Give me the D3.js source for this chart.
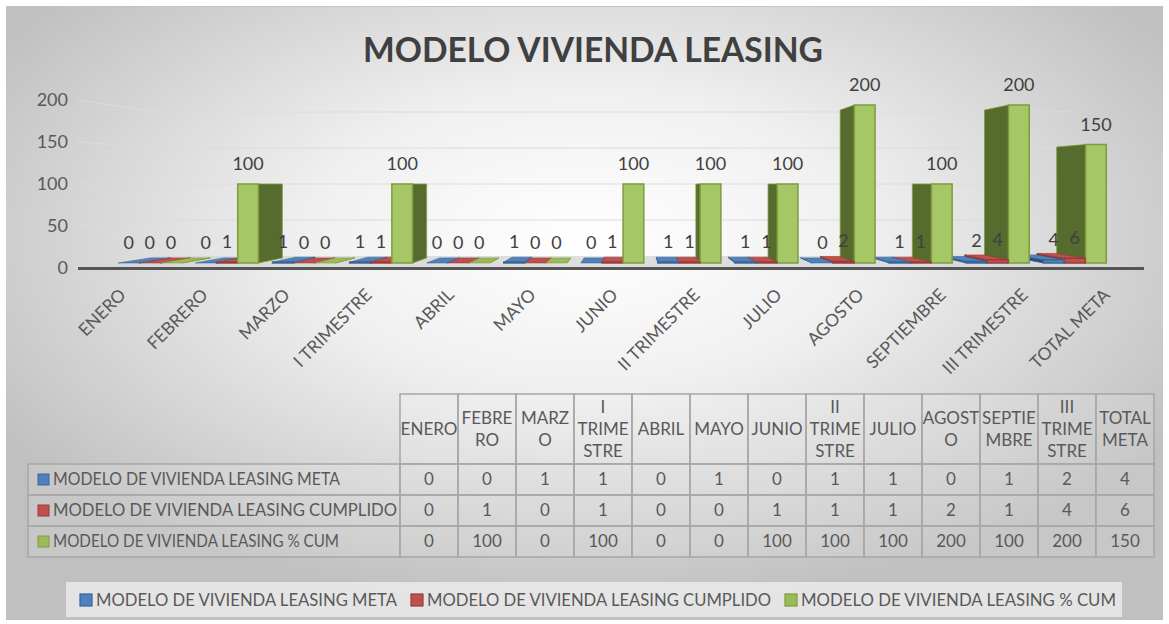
<!DOCTYPE html>
<html>
<head>
<meta charset="utf-8">
<script src="https://cdn.jsdelivr.net/npm/d3@7"></script>
<style>
  body { margin: 0; background: #fff; }
  svg { display: block; font-family: Lato, "Open Sans", sans-serif; }
</style>
</head>
<body>
<div id="chart"></div>
<script>
// data
const categories = ["ENERO", "FEBRERO", "MARZO", "I TRIMESTRE", "ABRIL", "MAYO", "JUNIO",
  "II TRIMESTRE", "JULIO", "AGOSTO", "SEPTIEMBRE", "III TRIMESTRE", "TOTAL META"];
const headerLines = [["ENERO"], ["FEBRE", "RO"], ["MARZ", "O"], ["I", "TRIME", "STRE"], ["ABRIL"],
  ["MAYO"], ["JUNIO"], ["II", "TRIME", "STRE"], ["JULIO"], ["AGOST", "O"], ["SEPTIE", "MBRE"],
  ["III", "TRIME", "STRE"], ["TOTAL", "META"]];
const seriesNames = ["MODELO DE VIVIENDA LEASING META", "MODELO DE VIVIENDA LEASING CUMPLIDO",
  "MODELO DE VIVIENDA LEASING % CUM"];
const metaValues = [0, 0, 1, 1, 0, 1, 0, 1, 1, 0, 1, 2, 4];
const cumplidoValues = [0, 1, 0, 1, 0, 0, 1, 1, 1, 2, 1, 4, 6];
const pctValues = [0, 100, 0, 100, 0, 0, 100, 100, 100, 200, 100, 200, 150];
const yTicks = [0, 50, 100, 150, 200];

const seriesValues = [metaValues, cumplidoValues, pctValues];
const colors = [
  { front: "#4f81bd", side: "#2c4d75", top: "#4f81bd", edge: "#3a6496" },
  { front: "#c0504d", side: "#8c2f2d", top: "#c0504d", edge: "#9a3b38" },
  { front: "#a6c766", side: "#566b2e", top: "#9bbb59", edge: "#7e9c3e" }
];

const width = 1169, height = 624;

const svg = d3.select("#chart").append("svg")
  .attr("width", width)
  .attr("height", height);

// background
const defs = svg.append("defs");
const grad = defs.append("radialGradient")
  .attr("id", "bg")
  .attr("cx", 0.5).attr("cy", 0.38).attr("r", 0.6);
grad.append("stop").attr("offset", "0%").attr("stop-color", "#ffffff");
grad.append("stop").attr("offset", "40%").attr("stop-color", "#f0f0f0");
grad.append("stop").attr("offset", "100%").attr("stop-color", "#c0c0c0");

svg.append("rect")
  .attr("x", 6).attr("y", 6)
  .attr("width", 1157).attr("height", 614)
  .attr("fill", "url(#bg)");
svg.append("line")
  .attr("x1", 6).attr("x2", 1163).attr("y1", 6.5).attr("y2", 6.5)
  .attr("stroke", "#c4c4c4");

// title
svg.append("text")
  .attr("x", 593).attr("y", 62)
  .attr("text-anchor", "middle")
  .attr("font-weight", 700)
  .attr("font-size", 34)
  .attr("fill", "#404040")
  .attr("textLength", 460)
  .attr("lengthAdjust", "spacingAndGlyphs")
  .text("MODELO VIVIENDA LEASING");

// perspective: eye at vx, vy; s is the depth scale (1 = front)
const vx = 633, vy = 184;
const sFloorBack = 0.857, sBarFront = 0.94, sBarBack = 0.88;
function proj(X, Y, s) {
  return [vx + (X - vx) * s, vy + (Y - vy) * s];
}

const x0 = d3.scaleBand().domain(categories).range([78, 1144]);
const x1 = d3.scaleBand().domain(d3.range(3)).range([-33.5, 33.5]).paddingInner(0.02);
const y = d3.scaleLinear().domain([0, 200]).range([268, 100]);

const xl = x0.range()[0], xr = x0.range()[1];

// gridlines: side wall + back wall
const grid = svg.append("g");
yTicks.forEach(function (v) {
  if (v === 0) return;
  const a = proj(xl, y(v), 1), b = proj(xl, y(v), sFloorBack), c = proj(xr, y(v), sFloorBack);
  grid.append("polyline")
    .attr("points", [a, b, c].map(p => p.join(",")).join(" "))
    .attr("fill", "none")
    .attr("stroke", "#dcdcdc")
    .attr("stroke-width", 1);
});

// y axis labels
svg.append("g").selectAll("text")
  .data(yTicks)
  .join("text")
  .attr("x", 68)
  .attr("y", d => y(d))
  .attr("dy", "0.35em")
  .attr("text-anchor", "end")
  .attr("font-size", 18)
  .attr("fill", "#595959")
  .text(d => d);

// floor
const floorPts = [proj(xl, y(0), 1), proj(xr, y(0), 1), proj(xr, y(0), sFloorBack), proj(xl, y(0), sFloorBack)];
svg.append("polygon")
  .attr("points", floorPts.map(p => p.join(",")).join(" "))
  .attr("fill", "#d6d6d6")
  .attr("opacity", 0.8);
svg.append("rect")
  .attr("x", xl).attr("y", y(0) - 1)
  .attr("width", xr - xl).attr("height", 3)
  .attr("fill", "#555555");

// bars
const bars = [];
categories.forEach(function (c, i) {
  seriesValues.forEach(function (vals, j) {
    const left = x0(c) + x0.bandwidth() / 2 + x1(j);
    bars.push({ cat: c, i: i, j: j, value: vals[i], xl: left, xr: left + x1.bandwidth() });
  });
});
bars.sort((a, b) => Math.abs((b.xl + b.xr) / 2 - vx) - Math.abs((a.xl + a.xr) / 2 - vx));

const poly = pts => pts.map(p => p.join(",")).join(" ");
const barG = svg.append("g");
bars.forEach(function (d) {
  const col = colors[d.j];
  const y0 = y(0), yt = y(d.value);
  const g = barG.append("g");
  // side face
  if (d.xr < vx) {
    g.append("polygon")
      .attr("points", poly([proj(d.xr, y0, sBarFront), proj(d.xr, y0, sBarBack), proj(d.xr, yt, sBarBack), proj(d.xr, yt, sBarFront)]))
      .attr("fill", col.side).attr("stroke", col.edge).attr("stroke-width", 0.8);
  } else if (d.xl > vx) {
    g.append("polygon")
      .attr("points", poly([proj(d.xl, y0, sBarFront), proj(d.xl, y0, sBarBack), proj(d.xl, yt, sBarBack), proj(d.xl, yt, sBarFront)]))
      .attr("fill", col.side).attr("stroke", col.edge).attr("stroke-width", 0.8);
  }
  // top face (seen when top is below eye level)
  if (yt > vy) {
    g.append("polygon")
      .attr("points", poly([proj(d.xl, yt, sBarFront), proj(d.xr, yt, sBarFront), proj(d.xr, yt, sBarBack), proj(d.xl, yt, sBarBack)]))
      .attr("fill", col.top).attr("stroke", col.edge).attr("stroke-width", 0.6);
  }
  // front face
  if (d.value > 0) {
    g.append("polygon")
      .attr("points", poly([proj(d.xl, y0, sBarFront), proj(d.xr, y0, sBarFront), proj(d.xr, yt, sBarFront), proj(d.xl, yt, sBarFront)]))
      .attr("fill", col.front).attr("stroke", col.edge).attr("stroke-width", 1.5);
  }
});

// data labels
svg.append("g").selectAll("text")
  .data(bars)
  .join("text")
  .attr("x", d => proj((d.xl + d.xr) / 2, 0, sBarFront)[0])
  .attr("y", d => proj(0, y(d.value), sBarFront)[1] - 14)
  .attr("text-anchor", "middle")
  .attr("font-size", 18)
  .attr("fill", "#404040")
  .text(d => d.value);

// category labels
svg.append("g").selectAll("text")
  .data(categories)
  .join("text")
  .attr("transform", d => `translate(${x0(d) + x0.bandwidth() / 2 + 8},${296}) rotate(-45)`)
  .attr("text-anchor", "end")
  .attr("font-size", 17.5)
  .attr("fill", "#595959")
  .text(d => d);

// data table
const tableLeft = 400, tableRight = 1154, labelLeft = 28;
const headerTop = 394, headerBottom = 464, rowH = 31;
const col = d3.scaleBand().domain(categories).range([tableLeft, tableRight]);
const table = svg.append("g");

table.selectAll("rect.h")
  .data(categories)
  .join("rect")
  .attr("class", "h")
  .attr("x", d => col(d)).attr("y", headerTop)
  .attr("width", col.bandwidth()).attr("height", headerBottom - headerTop)
  .attr("fill", "rgba(255,255,255,0.12)")
  .attr("stroke", "#a6a6a6").attr("stroke-width", 1.5);

headerLines.forEach(function (lines, i) {
  const cx = col(categories[i]) + col.bandwidth() / 2;
  const cy = (headerTop + headerBottom) / 2;
  lines.forEach(function (t, k) {
    table.append("text")
      .attr("x", cx)
      .attr("y", cy + (k - (lines.length - 1) / 2) * 22)
      .attr("dy", "0.35em")
      .attr("text-anchor", "middle")
      .attr("font-size", 17)
      .attr("fill", "#595959")
      .text(t);
  });
});

const labelW = [287, 344, 286];
seriesNames.forEach(function (name, j) {
  const top = headerBottom + j * rowH;
  table.append("rect")
    .attr("x", labelLeft).attr("y", top)
    .attr("width", tableLeft - labelLeft).attr("height", rowH)
    .attr("fill", "rgba(255,255,255,0.12)")
    .attr("stroke", "#a6a6a6").attr("stroke-width", 1.5);
  table.append("rect")
    .attr("x", 38).attr("y", top + rowH / 2 - 5.5)
    .attr("width", 11).attr("height", 11)
    .attr("fill", colors[j].top).attr("stroke", colors[j].edge);
  table.append("text")
    .attr("x", 53).attr("y", top + rowH / 2)
    .attr("dy", "0.35em")
    .attr("font-size", 17)
    .attr("fill", "#595959")
    .attr("textLength", labelW[j])
    .attr("lengthAdjust", "spacingAndGlyphs")
    .text(name);
  categories.forEach(function (c, i) {
    table.append("rect")
      .attr("x", col(c)).attr("y", top)
      .attr("width", col.bandwidth()).attr("height", rowH)
      .attr("fill", "rgba(255,255,255,0.12)")
      .attr("stroke", "#a6a6a6").attr("stroke-width", 1.5);
    table.append("text")
      .attr("x", col(c) + col.bandwidth() / 2).attr("y", top + rowH / 2)
      .attr("dy", "0.35em")
      .attr("text-anchor", "middle")
      .attr("font-size", 17)
      .attr("fill", "#595959")
      .text(seriesValues[j][i]);
  });
});

// legend
const legend = svg.append("g");
legend.append("rect")
  .attr("x", 66).attr("y", 582)
  .attr("width", 1056).attr("height", 35)
  .attr("fill", "#f4f4f4").attr("opacity", 0.7);
const legendX = [80, 411, 785];
const legendW = [301, 344, 315];
seriesNames.forEach(function (name, j) {
  legend.append("rect")
    .attr("x", legendX[j]).attr("y", 594)
    .attr("width", 12).attr("height", 12)
    .attr("fill", colors[j].top).attr("stroke", colors[j].edge).attr("stroke-width", 1.2);
  legend.append("text")
    .attr("x", legendX[j] + 16).attr("y", 600)
    .attr("dy", "0.35em")
    .attr("font-size", 17)
    .attr("fill", "#595959")
    .attr("textLength", legendW[j])
    .attr("lengthAdjust", "spacingAndGlyphs")
    .text(name);
});
</script>
</body>
</html>
